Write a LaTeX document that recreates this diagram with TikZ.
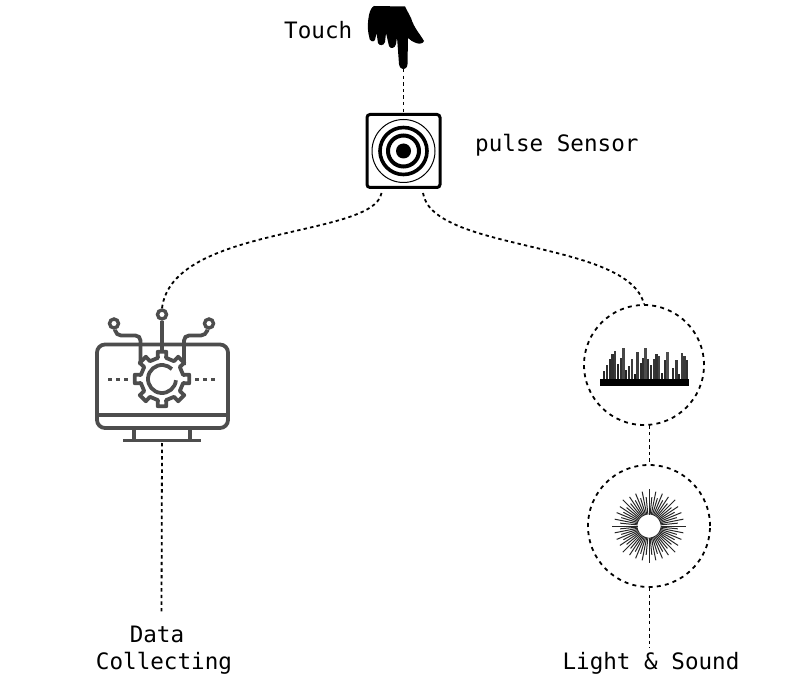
\documentclass[tikz,border=0pt]{standalone}
\usepackage{fontspec}
\setmonofont{DejaVu Sans Mono}
\definecolor{icongray}{HTML}{4D4D4D}
\tikzset{
  link/.style={draw=black,line width=1.8pt,dash pattern=on 3.4pt off 3.2pt},
  ringdash/.style={circle,draw=black,line width=1.8pt,dash pattern=on 4pt off 4.2pt,inner sep=0pt},
  caption/.style={font=\ttfamily\fontsize{22.6}{27}\selectfont,align=center,inner sep=0pt,text=black},
  iconline/.style={draw=icongray,line width=3.8pt},
  pin/.style={circle,draw=icongray,line width=3.4pt,minimum size=9pt,inner sep=0pt}
}
\begin{document}
\begin{tikzpicture}[x=1pt,y=-1pt]
\useasboundingbox (0,0) rectangle (800,700);

% pointing hand
\fill[black] (374,6) -- (405,6.5) -- (411,18) .. controls (414,28) and (420,34) .. (424,41)
  .. controls (423,44) and (419,44) .. (416,43) .. controls (413,42) and (410,40) .. (408,38)
  -- (407.5,64) .. controls (407,71) and (400,71) .. (399,64) -- (397,37) -- (396,44)
  .. controls (395,49) and (390,49) .. (389,46) -- (386,33) -- (385,42)
  .. controls (384,46) and (379,46) .. (378,43) -- (376.5,33) -- (375,40)
  .. controls (373,43) and (369,41) .. (369,36) .. controls (367,28) and (368,20) .. (369,15)
  .. controls (370,10) and (372,7) .. (374,6) -- cycle;
\coordinate (fingertip) at (403.5,69);

% pulse sensor
\node[draw=black,line width=3pt,rounded corners=3pt,minimum size=73pt,inner sep=0pt] (sensor) at (403.5,151) {};
\fill[black] (sensor.center) circle (7.5);
\draw[line width=4pt] (sensor.center) circle (15.5);
\draw[line width=3.6pt] (sensor.center) circle (23.5);
\draw[line width=1pt] (sensor.center) circle (31.5);
\coordinate (sensorL) at (381.5,193);
\coordinate (sensorR) at (423,193);

% monitor with gear
\draw[iconline,rounded corners=8pt] (97,344.5) rectangle (228,428);
\draw[iconline] (97,415) -- (228,415);
\draw[iconline] (134,428) -- (134,440) (190,428) -- (190,440);
\draw[iconline] (123,440.5) -- (201,440.5);
\coordinate (gear) at (162,379);
\foreach \a in {0,45,...,315}{
  \draw[iconline,line cap=round,line join=round]
    ([shift={(\a-11:21.5)}]gear) -- ([shift={(\a-9:27.5)}]gear) -- ([shift={(\a+9:27.5)}]gear)
    -- ([shift={(\a+11:21.5)}]gear) -- ([shift={(\a+34:21.5)}]gear);
}
\draw[iconline] ([shift={(5:14)}]gear) arc[start angle=5,end angle=315,radius=14];
\draw[icongray,line width=3.6pt,dash pattern=on 4pt off 4pt] (108,379.5) -- (131,379.5);
\draw[icongray,line width=3.6pt,dash pattern=on 4pt off 4pt] (195,379.5) -- (217,379.5);
\node[pin] (pinC) at (162,314.5) {};
\node[pin] (pinL) at (114,323.5) {};
\node[pin] (pinR) at (209,323.5) {};
\draw[iconline] (pinC) -- (162,352);
\draw[iconline,rounded corners=5pt] (pinL) -- (116,335.5) -- (140.5,335.5) -- (140.5,365);
\draw[iconline,rounded corners=5pt] (pinR) -- (206,335.5) -- (184,335.5) -- (184,365);
\coordinate (monitorB) at (162,443);

% circle with level bars
\node[ringdash,minimum size=120pt] (levels) at (644,365) {};
\fill[black] (600,379) rectangle (688.5,386);
\foreach \x/\h/\s in {604/8/55,607/14/45,610/20/50,612.5/25/45,615/28/35,618/15/60,621/21/45,623.5/31/20,626/9/60,629/13/50,632/20/30,635/5/70,637.5/27/30,641/16/50,643.5/21/45,645.5/31/15,648/20/45,651/14/50,654/20/40,656.5/25/45,659/23/25,662/6/60,665/19/50,667.5/27/10,673/11/50,676.5/19/35,679/5/60,682/26/30,684.5/23/35,687/19/45}{
  \fill[black!\s!gray!70!black] (\x-1.15,379) rectangle (\x+1.15,379-\h);
}

% circle with radial burst
\node[ringdash,minimum size=122pt] (burst) at (649,526) {};
\foreach \i in {0,...,63}{
  \pgfmathsetmacro{\ang}{\i*5.625}
  \pgfmathsetmacro{\len}{ifthenelse(mod(\i,8)==0,37,ifthenelse(mod(\i,2)==0,35,29))}
  \draw[black!85,line width=1pt] ([shift={(\ang:11.5)}]burst.center) -- ([shift={(\ang:\len)}]burst.center);
}

% captions
\node[caption,anchor=west] (touch) at (284,30) {Touch};
\node[caption,anchor=west] (pulse) at (475,145) {pulse Sensor};
\node[caption] (data) at (164,650) {Data\hspace*{14pt}\\Collecting};
\node[caption] (light) at (651,663) {Light \& Sound};
\coordinate (dataT) at (161.5,612);
\coordinate (lightT) at (649.5,648);

% connectors
\draw[link] (fingertip) -- (sensor.north);
\draw[link] (sensorL) .. controls (374,238) and (172,225) .. (pinC.north);
\draw[link] (sensorR) .. controls (432,252) and (628,240) .. (levels.north);
\draw[link] (monitorB) -- (dataT);
\draw[link] (levels.south -| 649.5,0) ++(0,-0.5) -- (burst.north -| 649.5,0);
\draw[link] (burst.south -| 649.5,0) -- (lightT);
\end{tikzpicture}
\end{document}
